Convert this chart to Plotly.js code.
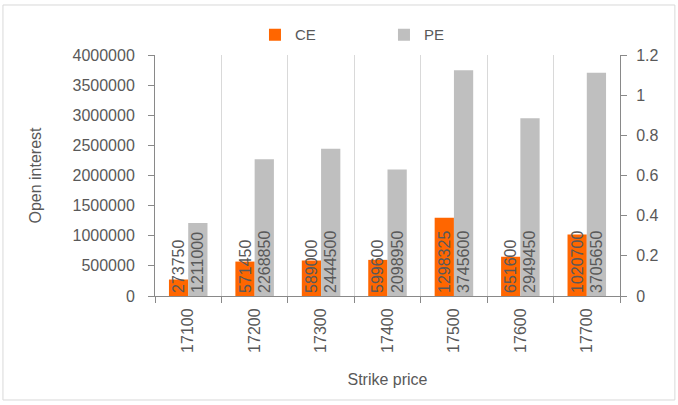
<!DOCTYPE html>
<html>
<head>
<meta charset="utf-8">
<script src="https://cdn.plot.ly/plotly-3.0.1.min.js"></script>
<style>html,body{margin:0;padding:0;background:#fff;}#chart{width:678px;height:405px;}</style>
</head>
<body>
<div id="chart"></div>
<script>
const strikes = ['17100', '17200', '17300', '17400', '17500', '17600', '17700'];
const ceValues = [273750, 571450, 589000, 599600, 1298325, 651600, 1020700];
const peValues = [1211000, 2268850, 2444500, 2098950, 3745600, 2949450, 3705650];

const FAM = 'Liberation Sans, Arial, sans-serif';
const numFont = {family: FAM, size: 16, color: '#595959'};
const titleFont = {family: FAM, size: 16, color: '#595959'};
const legendFont = {family: FAM, size: 15, color: '#595959'};

const traces = [
  {
    type: 'bar', name: 'CE', x: strikes, y: ceValues,
    marker: {color: '#ff6600'},
    text: ceValues.map(String), textposition: 'inside', insidetextanchor: 'start',
    textangle: -90, constraintext: 'none', cliponaxis: false,
    insidetextfont: numFont, textfont: numFont, hoverinfo: 'x+y'
  },
  {
    type: 'bar', name: 'PE', x: strikes, y: peValues,
    marker: {color: '#bfbfbf'},
    text: peValues.map(String), textposition: 'inside', insidetextanchor: 'start',
    textangle: -90, constraintext: 'none', cliponaxis: false,
    insidetextfont: numFont, textfont: numFont, hoverinfo: 'x+y'
  },
  {
    type: 'scatter', mode: 'none', x: strikes, y: strikes.map(() => null),
    yaxis: 'y2', showlegend: false, hoverinfo: 'skip'
  }
];

const layout = {
  width: 678, height: 405,
  margin: {l: 155, r: 58, t: 55, b: 109},
  paper_bgcolor: '#ffffff', plot_bgcolor: '#ffffff',
  font: numFont,
  barmode: 'group', bargap: 0.42, bargroupgap: 0,
  showlegend: true,
  legend: {
    orientation: 'h', x: 0.215, xanchor: 'left', y: 1.015, yanchor: 'bottom',
    font: legendFont, entrywidth: 84, itemwidth: 30, traceorder: 'normal'
  },
  xaxis: {
    type: 'category', tickson: 'boundaries', ticks: 'outside', ticklen: 6,
    tickcolor: '#898989', showline: true, linecolor: '#898989', linewidth: 1,
    showgrid: true, gridcolor: '#d9d9d9', tickangle: -90, tickfont: numFont,
    ticklabelstandoff: 5,
    title: {text: 'Strike price', font: titleFont, standoff: 21}
  },
  yaxis: {
    range: [0, 4000000], dtick: 500000, tick0: 0, ticks: 'outside', ticklen: 6,
    tickcolor: '#898989', showline: true, linecolor: '#898989', linewidth: 1,
    showgrid: false, zeroline: false, tickfont: numFont, tickformat: 'd',
    ticklabelstandoff: 10,
    title: {text: 'Open interest', font: titleFont, standoff: 26}
  },
  yaxis2: {
    overlaying: 'y', side: 'right', range: [0, 1.2], dtick: 0.2, tick0: 0,
    ticks: 'outside', ticklen: 6, tickcolor: '#898989', showline: true,
    linecolor: '#898989', linewidth: 1, showgrid: false, zeroline: false,
    tickfont: numFont, ticklabelstandoff: 6
  },
  shapes: [{
    type: 'rect', xref: 'paper', yref: 'paper',
    x0: -0.327, x1: 1.118, y0: -0.4315, y1: 1.2075,
    line: {color: '#d9d9d9', width: 1}, fillcolor: 'rgba(0,0,0,0)', layer: 'below'
  }]
};

Plotly.newPlot('chart', traces, layout, {displayModeBar: false, staticPlot: true});
</script>
</body>
</html>
